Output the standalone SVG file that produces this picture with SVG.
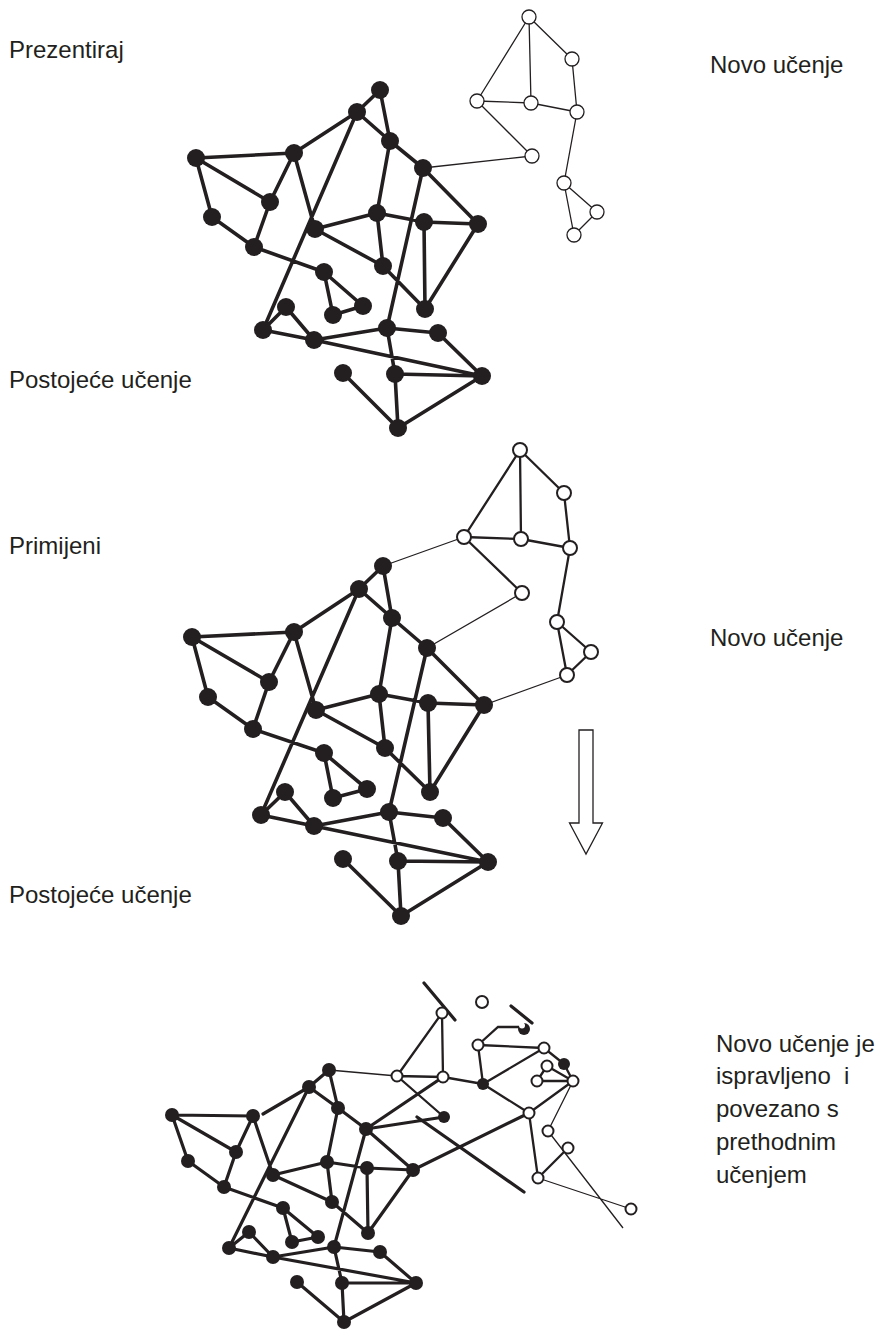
<svg xmlns="http://www.w3.org/2000/svg" width="884" height="1330" viewBox="0 0 884 1330">
  <style>
    .lbl { font-family: "Liberation Sans", Arial, sans-serif; font-size: 24px; fill: #231f20; white-space: pre; }
    .e  { stroke: #231f20; stroke-width: 3.6; stroke-linecap: round; fill: none; }
    .e3 { stroke: #231f20; stroke-width: 3.2; stroke-linecap: round; fill: none; }
    .t  { stroke: #231f20; stroke-width: 1.3; fill: none; }
    .m  { stroke: #231f20; stroke-width: 2.3; fill: none; }
    .b  { fill: #231f20; }
    .w  { fill: #ffffff; stroke: #231f20; stroke-width: 1.3; }
    .w2 { fill: #ffffff; stroke: #231f20; stroke-width: 2; }
  </style>

  <!-- labels -->
  <g id="labels">
    <text class="lbl" x="9" y="58">Prezentiraj</text>
    <text class="lbl" x="710" y="73">Novo učenje</text>
    <text class="lbl" x="9" y="388">Postojeće učenje</text>
    <text class="lbl" x="9" y="554">Primijeni</text>
    <text class="lbl" x="710" y="646">Novo učenje</text>
    <text class="lbl" x="9" y="903">Postojeće učenje</text>
    <text class="lbl" x="716" y="1052">Novo učenje je</text>
    <text class="lbl" x="716" y="1084" xml:space="preserve">ispravljeno  i</text>
    <text class="lbl" x="716" y="1117">povezano s</text>
    <text class="lbl" x="716" y="1150">prethodnim</text>
    <text class="lbl" x="716" y="1183">učenjem</text>
  </g>

  <!-- ===== Stage 1: present ===== -->
  <g id="connectors-1">
    <path class="e" d="M380,90L357,112 M380,90L390,141 M357,112L390,141 M390,141L423,168 M357,112L294,153 M294,153L196,158 M196,158L270,202 M196,158L212,217 M212,217L254,247 M294,153L270,202 M270,202L254,247 M294,153L315,229 M357,112L263,330 M390,141L377,213 M377,213L315,229 M377,213L424,222 M424,222L478,224 M377,213L383,266 M315,229L383,266 M383,266L425,309 M424,222L425,309 M478,224L425,309 M423,168L478,224 M423,168L387,328 M254,247L324,272 M324,272L333,315 M324,272L363,306 M333,315L363,306 M263,330L286,307 M286,307L314,340 M263,330L314,340 M314,340L387,328 M387,328L438,333 M438,333L482,376 M314,340L482,376 M387,328L395,374 M395,374L482,376 M395,374L398,428 M343,373L398,428 M482,376L398,428"/>
    <path class="t" d="M529,17L477,101 M529,17L531,103 M529,17L572,59 M477,101L531,103 M531,103L577,112 M572,59L577,112 M477,101L532,156 M577,112L564,183 M564,183L597,212 M564,183L574,235 M597,212L574,235 M532,156L423,168"/>
  </g>
  <g id="nodes-1">
    <g class="b">
      <circle id="s1-a" cx="380" cy="90" r="9"/><circle id="s1-b" cx="357" cy="112" r="9"/>
      <circle id="s1-c" cx="390" cy="141" r="9"/><circle id="s1-d" cx="423" cy="168" r="9"/>
      <circle id="s1-e" cx="294" cy="153" r="9"/><circle id="s1-f" cx="196" cy="158" r="9"/>
      <circle id="s1-g" cx="270" cy="202" r="9"/><circle id="s1-h" cx="212" cy="217" r="9"/>
      <circle id="s1-i" cx="254" cy="247" r="9"/><circle id="s1-j" cx="315" cy="229" r="9"/>
      <circle id="s1-k" cx="377" cy="213" r="9"/><circle id="s1-l" cx="424" cy="222" r="9"/>
      <circle id="s1-m" cx="478" cy="224" r="9"/><circle id="s1-n" cx="383" cy="266" r="9"/>
      <circle id="s1-o" cx="324" cy="272" r="9"/><circle id="s1-p" cx="333" cy="315" r="9"/>
      <circle id="s1-q" cx="363" cy="306" r="9"/><circle id="s1-r" cx="425" cy="309" r="9"/>
      <circle id="s1-s" cx="286" cy="307" r="9"/><circle id="s1-t" cx="263" cy="330" r="9"/>
      <circle id="s1-u" cx="314" cy="340" r="9"/><circle id="s1-v" cx="387" cy="328" r="9"/>
      <circle id="s1-w" cx="438" cy="333" r="9"/><circle id="s1-x" cx="343" cy="373" r="9"/>
      <circle id="s1-y" cx="395" cy="374" r="9"/><circle id="s1-z" cx="482" cy="376" r="9"/>
      <circle id="s1-aa" cx="398" cy="428" r="9"/>
    </g>
    <g class="w">
      <circle id="s1-n1" cx="529" cy="17" r="7"/><circle id="s1-n2" cx="572" cy="59" r="7"/>
      <circle id="s1-n3" cx="477" cy="101" r="7"/><circle id="s1-n4" cx="531" cy="103" r="7"/>
      <circle id="s1-n5" cx="577" cy="112" r="7"/><circle id="s1-n6" cx="532" cy="156" r="7"/>
      <circle id="s1-n7" cx="564" cy="183" r="7"/><circle id="s1-n8" cx="597" cy="212" r="7"/>
      <circle id="s1-n9" cx="574" cy="235" r="7"/>
    </g>
  </g>

  <!-- ===== Stage 2: apply ===== -->
  <g id="connectors-2">
    <path class="e" d="M383,566L359,589 M383,566L392,618 M359,589L392,618 M392,618L427,648 M359,589L294,632 M294,632L192,637 M192,637L269,682 M192,637L208,697 M208,697L253,729 M294,632L269,682 M269,682L253,729 M294,632L316,710 M359,589L261,815 M392,618L379,694 M379,694L316,710 M379,694L428,703 M428,703L484,705 M379,694L385,748 M316,710L385,748 M385,748L430,792 M428,703L430,792 M484,705L430,792 M427,648L484,705 M427,648L389,812 M253,729L324,753 M324,753L333,798 M324,753L367,789 M333,798L367,789 M261,815L285,792 M285,792L314,826 M261,815L314,826 M314,826L389,812 M389,812L443,818 M443,818L488,862 M314,826L488,862 M389,812L398,861 M398,861L488,862 M398,861L401,916 M343,859L401,916 M488,862L401,916"/>
    <path class="m" d="M520,450L464,537 M520,450L521,539 M520,450L564,493 M464,537L521,539 M521,539L570,548 M564,493L570,548 M464,537L522,593 M570,548L557,622 M557,622L591,652 M557,622L567,675 M591,652L567,675"/>
    <path class="t" d="M383,566L464,537 M427,648L522,593"/>
    <path class="t" stroke-width="2" d="M484,705L567,675"/>
  </g>
  <g id="nodes-2">
    <g class="b">
      <circle id="s2-a" cx="383" cy="566" r="9"/><circle id="s2-b" cx="359" cy="589" r="9"/>
      <circle id="s2-c" cx="392" cy="618" r="9"/><circle id="s2-d" cx="427" cy="648" r="9"/>
      <circle id="s2-e" cx="294" cy="632" r="9"/><circle id="s2-f" cx="192" cy="637" r="9"/>
      <circle id="s2-g" cx="269" cy="682" r="9"/><circle id="s2-h" cx="208" cy="697" r="9"/>
      <circle id="s2-i" cx="253" cy="729" r="9"/><circle id="s2-j" cx="316" cy="710" r="9"/>
      <circle id="s2-k" cx="379" cy="694" r="9"/><circle id="s2-l" cx="428" cy="703" r="9"/>
      <circle id="s2-m" cx="484" cy="705" r="9"/><circle id="s2-n" cx="385" cy="748" r="9"/>
      <circle id="s2-o" cx="324" cy="753" r="9"/><circle id="s2-p" cx="333" cy="798" r="9"/>
      <circle id="s2-q" cx="367" cy="789" r="9"/><circle id="s2-r" cx="430" cy="792" r="9"/>
      <circle id="s2-s" cx="285" cy="792" r="9"/><circle id="s2-t" cx="261" cy="815" r="9"/>
      <circle id="s2-u" cx="314" cy="826" r="9"/><circle id="s2-v" cx="389" cy="812" r="9"/>
      <circle id="s2-w" cx="443" cy="818" r="9"/><circle id="s2-x" cx="343" cy="859" r="9"/>
      <circle id="s2-y" cx="398" cy="861" r="9"/><circle id="s2-z" cx="488" cy="862" r="9"/>
      <circle id="s2-aa" cx="401" cy="916" r="9"/>
    </g>
    <g class="w2">
      <circle id="s2-n1" cx="520" cy="450" r="7"/><circle id="s2-n2" cx="564" cy="493" r="7"/>
      <circle id="s2-n3" cx="464" cy="537" r="7"/><circle id="s2-n4" cx="521" cy="539" r="7"/>
      <circle id="s2-n5" cx="570" cy="548" r="7"/><circle id="s2-n6" cx="522" cy="593" r="7"/>
      <circle id="s2-n7" cx="557" cy="622" r="7"/><circle id="s2-n8" cx="591" cy="652" r="7"/>
      <circle id="s2-n9" cx="567" cy="675" r="7"/>
    </g>
  </g>

  <!-- hollow down arrow between stages -->
  <g id="arrow">
    <polygon points="579,730 593,730 593,823 602.5,823 586,854 569.5,823 579,823" fill="#ffffff" stroke="#231f20" stroke-width="1.3" stroke-linejoin="miter"/>
  </g>

  <!-- ===== Stage 3: corrected and connected ===== -->
  <g id="connectors-3">
    <path class="e3" d="M329,1070L309,1087 M329,1070L338,1108 M309,1087L338,1108 M338,1108L366,1129 M309,1087L263,1114 M253,1116L172,1115 M172,1115L236,1152 M172,1115L188,1161 M188,1161L224,1187 M253,1116L236,1152 M236,1152L224,1187 M253,1116L273,1175 M309,1087L229,1248 M338,1108L327,1162 M327,1162L273,1175 M327,1162L367,1168 M367,1168L413,1170 M327,1162L332,1202 M273,1175L332,1202 M332,1202L368,1233 M367,1168L368,1233 M413,1170L368,1233 M366,1129L413,1170 M366,1129L334,1247 M224,1187L283,1208 M283,1208L292,1242 M283,1208L318,1237 M292,1242L318,1237 M229,1248L249,1232 M249,1232L273,1257 M229,1248L273,1257 M273,1257L334,1247 M334,1247L380,1252 M380,1252L416,1283 M273,1257L416,1283 M334,1247L342,1283 M342,1283L416,1283 M342,1283L344,1322 M297,1282L344,1322 M416,1283L344,1322"/>
    <!-- links reaching into the new part -->
    <path class="e3" d="M366,1129L443,1077 M366,1129L444,1117 M413,1170L529,1113 M417,1117L524,1192 M424,983L455,1020 M511,1006L532,1023"/>
    <path class="m" d="M442,1013L397,1076 M442,1013L443,1077 M397,1076L443,1077 M443,1077L483,1084 M397,1076L444,1117 M478,1045L483,1084 M483,1084L544,1048 M478,1045L544,1048 M483,1084L529,1113 M529,1113L573,1081 M529,1113L538,1178 M538,1178L568,1148 M544,1048L564,1064 M564,1064L573,1081 M547,1066L573,1081 M537,1081L573,1081 M547,1066L537,1081 M478,1045L498,1027L523,1027"/>
    <path class="t" d="M329,1070L397,1076 M573,1081L548,1131 M548,1131L623,1228 M538,1178L631,1209"/>
  </g>
  <g id="nodes-3">
    <g class="b">
      <circle id="s3-a" cx="329" cy="1070" r="7"/><circle id="s3-b" cx="309" cy="1087" r="7"/>
      <circle id="s3-c" cx="338" cy="1108" r="7"/><circle id="s3-d" cx="366" cy="1129" r="7"/>
      <circle id="s3-e" cx="253" cy="1116" r="7"/><circle id="s3-f" cx="172" cy="1115" r="7"/>
      <circle id="s3-g" cx="236" cy="1152" r="7"/><circle id="s3-h" cx="188" cy="1161" r="7"/>
      <circle id="s3-i" cx="224" cy="1187" r="7"/><circle id="s3-j" cx="273" cy="1175" r="7"/>
      <circle id="s3-k" cx="327" cy="1162" r="7"/><circle id="s3-l" cx="367" cy="1168" r="7"/>
      <circle id="s3-m" cx="413" cy="1170" r="7"/><circle id="s3-n" cx="332" cy="1202" r="7"/>
      <circle id="s3-o" cx="283" cy="1208" r="7"/><circle id="s3-p" cx="292" cy="1242" r="7"/>
      <circle id="s3-q" cx="318" cy="1237" r="7"/><circle id="s3-r" cx="368" cy="1233" r="7"/>
      <circle id="s3-s" cx="249" cy="1232" r="7"/><circle id="s3-t" cx="229" cy="1248" r="7"/>
      <circle id="s3-u" cx="273" cy="1257" r="7"/><circle id="s3-v" cx="334" cy="1247" r="7"/>
      <circle id="s3-w" cx="380" cy="1252" r="7"/><circle id="s3-x" cx="297" cy="1282" r="7"/>
      <circle id="s3-y" cx="342" cy="1283" r="7"/><circle id="s3-z" cx="416" cy="1283" r="7"/>
      <circle id="s3-aa" cx="344" cy="1322" r="7"/>
      <circle id="s3-k1" cx="564" cy="1064" r="6"/><circle id="s3-k2" cx="483" cy="1084" r="6"/>
      <circle id="s3-k3" cx="444" cy="1117" r="6"/><circle id="s3-k4" cx="524" cy="1029" r="6"/>
    </g>
    <!-- small white cap on the partly hidden node -->
    <circle cx="522" cy="1025.5" r="3" fill="#ffffff"/>
    <g class="w2">
      <circle id="s3-w1" cx="442" cy="1013" r="5.5"/><circle id="s3-w2" cx="482" cy="1002" r="6"/>
      <circle id="s3-w3" cx="478" cy="1045" r="5.5"/><circle id="s3-w4" cx="544" cy="1048" r="5.5"/>
      <circle id="s3-w5" cx="547" cy="1066" r="5.5"/><circle id="s3-w6" cx="537" cy="1081" r="5.5"/>
      <circle id="s3-w7" cx="573" cy="1081" r="5.5"/><circle id="s3-w8" cx="397" cy="1076" r="5.5"/>
      <circle id="s3-w9" cx="443" cy="1077" r="5.5"/><circle id="s3-w10" cx="529" cy="1113" r="5.5"/>
      <circle id="s3-w11" cx="548" cy="1131" r="5.5"/><circle id="s3-w12" cx="568" cy="1148" r="5.5"/>
      <circle id="s3-w13" cx="538" cy="1178" r="5.5"/><circle id="s3-w14" cx="631" cy="1209" r="5.5"/>
    </g>
  </g>
</svg>
